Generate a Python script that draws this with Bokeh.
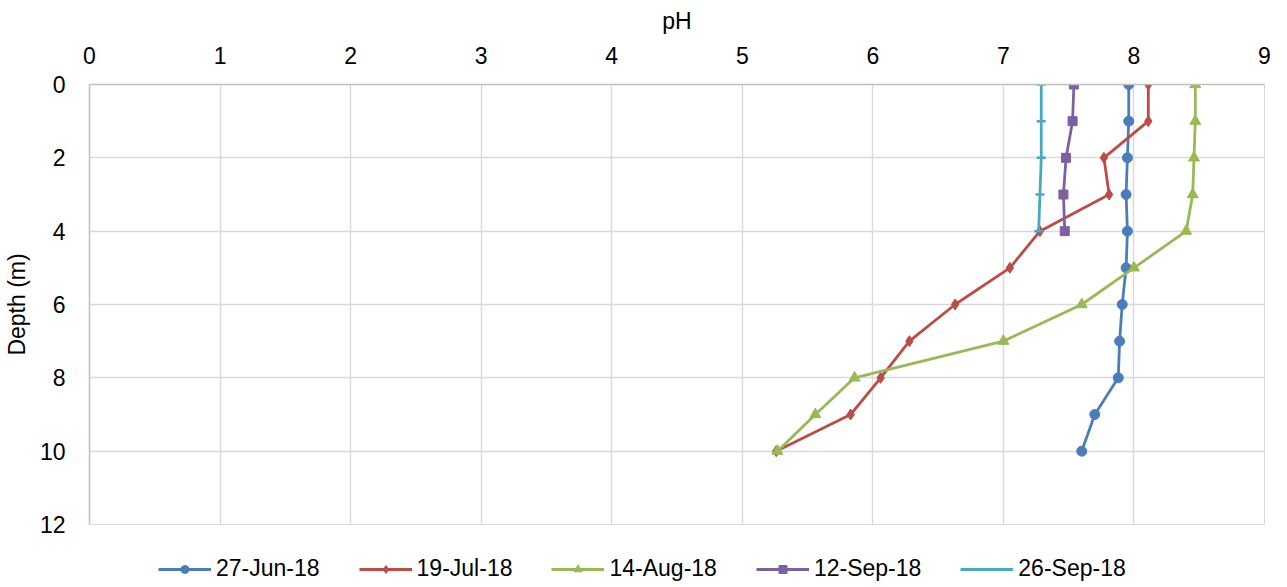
from bokeh.plotting import figure
from bokeh.models import Range1d, FixedTicker, Legend, LegendItem
from bokeh.layouts import column
from bokeh.embed import file_html
from bokeh.resources import INLINE

depth = [0, 1, 2, 3, 4, 5, 6, 7, 8, 9, 10]
depth_short = [0, 1, 2, 3, 4]
jun27 = [7.96, 7.96, 7.95, 7.94, 7.95, 7.94, 7.91, 7.89, 7.88, 7.70, 7.60]
jul19 = [8.11, 8.11, 7.77, 7.81, 7.28, 7.05, 6.63, 6.28, 6.06, 5.83, 5.26]
aug14 = [8.47, 8.47, 8.46, 8.45, 8.40, 8.00, 7.60, 7.00, 5.86, 5.56, 5.27]
sep12 = [7.54, 7.53, 7.48, 7.46, 7.47]
sep26 = [7.29, 7.29, 7.29, 7.28, 7.27]

labels = ["27-Jun-18", "19-Jul-18", "14-Aug-18", "12-Sep-18", "26-Sep-18"]
x_ticks = [0, 1, 2, 3, 4, 5, 6, 7, 8, 9]
y_ticks = [0, 2, 4, 6, 8, 10, 12]

FONT = "Liberation Sans"
FS = "23px"

p = figure(width=1271, height=540, output_backend="svg", toolbar_location=None,
           x_axis_location="above", x_range=Range1d(0, 9), y_range=Range1d(12, 0),
           min_border_left=78, min_border_right=7, min_border_top=84, min_border_bottom=16)
p.background_fill_color = "white"
p.border_fill_color = "white"
p.outline_line_color = "#d9d9d9"

for ax in (p.xaxis[0], p.yaxis[0]):
    ax.major_tick_line_color = None
    ax.minor_tick_line_color = None
    ax.axis_line_color = "#bfbfbf"
    ax.axis_line_width = 1.5
    ax.major_label_text_font = FONT
    ax.major_label_text_font_size = FS
    ax.major_label_text_color = "black"
    ax.axis_label_text_font = FONT
    ax.axis_label_text_font_size = FS
    ax.axis_label_text_font_style = "normal"
    ax.axis_label_text_color = "black"

p.xaxis[0].ticker = FixedTicker(ticks=x_ticks)
p.yaxis[0].ticker = FixedTicker(ticks=y_ticks)
p.xaxis[0].axis_label = "pH"
p.yaxis[0].axis_label = "Depth (m)"
p.xaxis[0].major_label_standoff = 15
p.xaxis[0].axis_label_standoff = 10
p.yaxis[0].major_label_standoff = 18
p.yaxis[0].axis_label_standoff = 7

p.xgrid.ticker = FixedTicker(ticks=x_ticks)
p.ygrid.ticker = FixedTicker(ticks=y_ticks)
p.grid.grid_line_color = "#d9d9d9"
p.grid.grid_line_width = 1.4

colors = ["#4a7ebb", "#be4b48", "#98b954", "#7d60a0", "#46aac5"]
series = [(jun27, depth), (jul19, depth), (aug14, depth), (sep12, depth_short), (sep26, depth_short)]
markers = ["circle", "diamond", "triangle", "square", "dash"]
sizes = [10, 11, 11, 9, 9]


def draw(fig, xs, ys, c, m, s):
    r1 = fig.line(xs, ys, line_color=c, line_width=2.8)
    if m == "dash":
        r2 = fig.scatter(xs, ys, marker=m, size=s, line_color=c, line_width=2.5)
    else:
        r2 = fig.scatter(xs, ys, marker=m, size=s, fill_color=c, line_color=c)
    return r1, r2


for (xs, ys), c, m, s in zip(series, colors, markers, sizes):
    draw(p, xs, ys, c, m, s)

# legend strip below the chart (its glyphs fall outside its own ranges)
p2 = figure(width=1271, height=43, output_backend="svg", toolbar_location=None,
            x_range=Range1d(100, 101), y_range=Range1d(100, 101),
            min_border_left=0, min_border_right=0, min_border_top=0, min_border_bottom=0)
p2.axis.visible = False
p2.grid.visible = False
p2.outline_line_color = None
p2.background_fill_color = "white"
p2.border_fill_color = "white"

items = []
for (xs, ys), c, m, s, lab in zip(series, colors, markers, sizes, labels):
    r1, r2 = draw(p2, xs, ys, c, m, s)
    items.append(LegendItem(label=lab, renderers=[r1, r2]))

legend = Legend(items=items, orientation="horizontal", location=(69, 1),
                label_text_font=FONT, label_text_font_size=FS, label_text_color="black",
                glyph_width=53, glyph_height=20, label_standoff=5, spacing=39,
                padding=4, margin=0, border_line_color=None, background_fill_alpha=0)
p2.add_layout(legend, "center")

open("out.html", "w").write(file_html(column(p, p2, spacing=0), INLINE))
